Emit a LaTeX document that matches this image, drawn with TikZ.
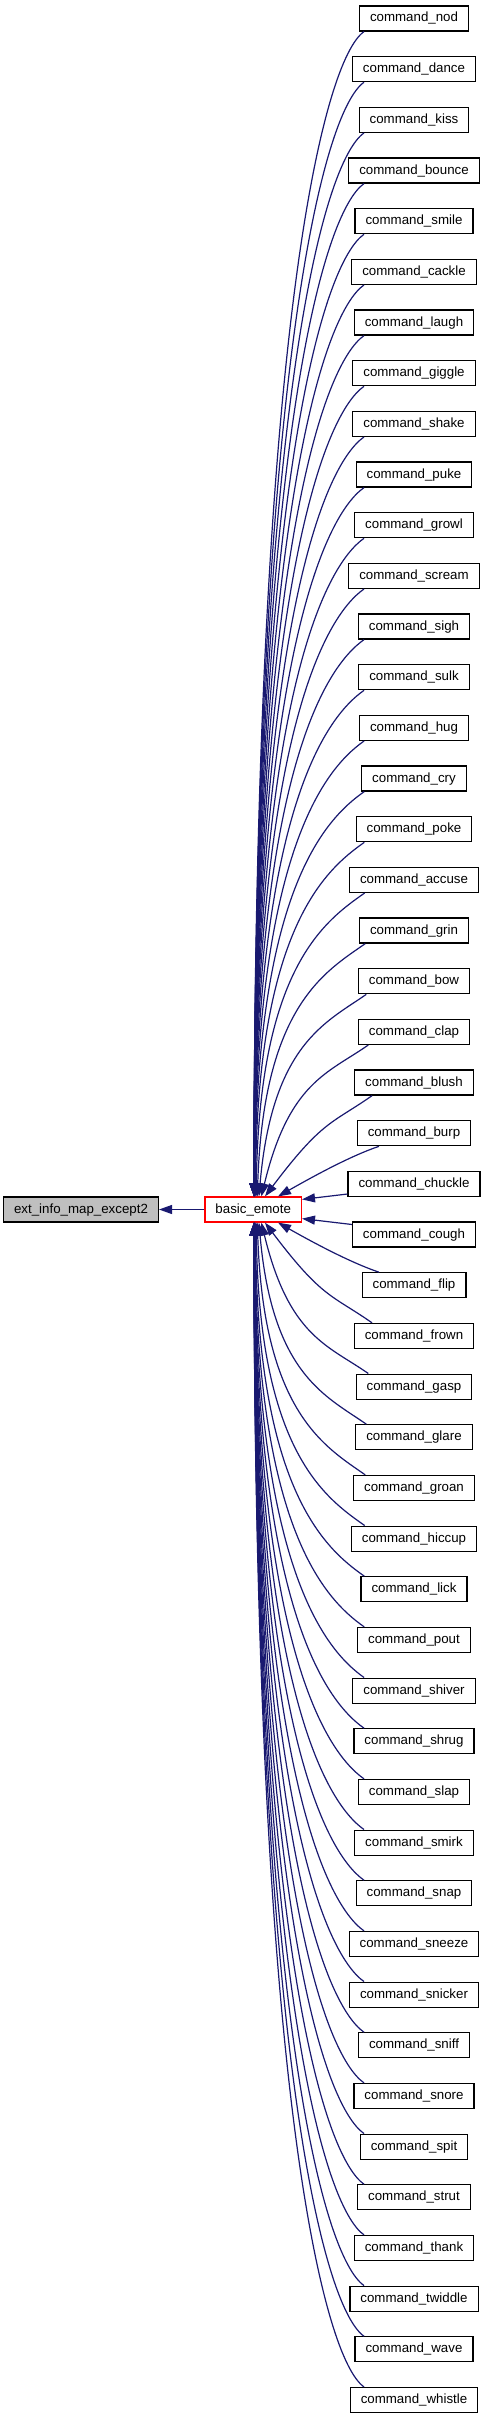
\documentclass[tikz,border=0pt]{standalone}
\usepackage{fontspec}
\setmainfont{Liberation Sans}
\usetikzlibrary{arrows.meta}
\definecolor{edgeblue}{HTML}{191970}
\definecolor{boxgray}{HTML}{BFBFBF}
\begin{document}
\begin{tikzpicture}[x=1pt,y=-1pt,
  box/.style={draw=black, line width=1.2pt, fill=white, inner xsep=10.5pt, inner ysep=0pt,
    minimum height=25pt, text height=9.6pt, text depth=2.6pt, font=\fontsize{13.3}{16}\selectfont},
  edge/.style={draw=edgeblue, line width=1.2pt, -{Triangle[length=13pt,width=9pt]}}]
\useasboundingbox (0,0) rectangle (485,2419);
\node[box, fill=boxgray] (ext) at (81,1209.5) {ext\_info\_map\_except2};
\node[box, draw=red] (be) at (253.2,1209.5) {basic\_emote};
\draw[edge] (be) -- (ext);
\foreach \nm [count=\i from 0] in {nod,dance,kiss,bounce,smile,cackle,laugh,giggle,shake,puke,growl,scream,sigh,sulk,hug,cry,poke,accuse,grin,bow,clap,blush,burp,chuckle,cough,flip,frown,gasp,glare,groan,hiccup,lick,pout,shiver,shrug,slap,smirk,snap,sneeze,snicker,sniff,snore,spit,strut,thank,twiddle,wave,whistle} {
  \node[box] (c\i) at (414, {18.5+\i*50.67}) {command\_\nm};
}
\foreach \i in {0,...,47} {
  \pgfmathsetmacro\k{abs(\i-23.5)}
  \ifdim\k pt>2pt
    \pgfmathsetmacro\yc{18.5+\i*50.67}
    \pgfmathsetmacro\D{abs(\yc-1209.5)-25}
    \pgfmathsetmacro\sx{364+15*exp(-(\k-1.5)/1.6)}
    \pgfmathsetmacro\xe{254+11*exp(-(\k-2.5)/2.5)}
    \pgfmathsetmacro\ang{90-37*exp(-(\k-2.5))}
    \pgfmathsetmacro\h{0.75*\D}
    \pgfmathsetmacro\w{\h*cos(\ang)/sin(\ang)}
    \coordinate (s\i) at (\sx,0);
    \coordinate (e\i) at (\xe,0);
    \ifnum\i<24
      \draw[edge] (c\i.south -| s\i) .. controls +(-40,28) and +(\w,-\h) .. (be.north -| e\i);
    \else
      \draw[edge] (c\i.north -| s\i) .. controls +(-40,-28) and +(\w,\h) .. (be.south -| e\i);
    \fi
  \fi
}
\draw[edge] ([yshift=3pt]c23.south west) -- ([yshift=-3pt]be.north east);
\draw[edge] ([yshift=-3pt]c24.north west) -- ([yshift=4pt]be.south east);
\coordinate (sb) at (379,0);
\coordinate (eb) at (278,0);
\draw[edge] (c22.south -| sb) .. controls +(-30,10) and +(30,-17) .. (be.north -| eb);
\draw[edge] (c25.north -| sb) .. controls +(-30,-10) and +(30,17) .. (be.south -| eb);
\end{tikzpicture}
\end{document}
